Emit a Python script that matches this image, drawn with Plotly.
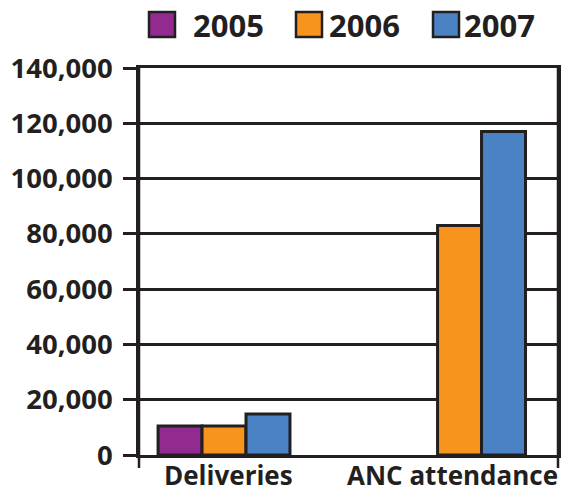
import plotly.graph_objects as go

# Data
categories = ["Deliveries", "ANC attendance"]
years = ["2005", "2006", "2007"]
values_2005 = [10500, None]
values_2006 = [10500, 83000]
values_2007 = [14800, 117000]
colors = ["#922a8f", "#f7941d", "#4a82c3"]
y_ticks = [0, 20000, 40000, 60000, 80000, 100000, 120000, 140000]

INK = "#231f20"
FONT = "Open Sans"
W, H = 562, 495
ML, MR, MT, MB = 139, 4, 68, 40
PW, PH = W - ML - MR, H - MT - MB


def px_x(p):
    return (p - ML) / PW


def px_y(p):
    return (H - MB - p) / PH


fig = go.Figure()
for yr, vals, col in zip(years, [values_2005, values_2006, values_2007], colors):
    fig.add_trace(go.Bar(
        x=categories, y=vals, name=yr, showlegend=False,
        marker=dict(color=col, line=dict(color=INK, width=3)),
    ))

# Legend: swatches and labels
legend_swatch_x = [149, 296, 433]
legend_text_x = [191, 327, 462]
shapes = []
annotations = []
for yr, col, sx, tx in zip(years, colors, legend_swatch_x, legend_text_x):
    shapes.append(dict(type="rect", xref="paper", yref="paper",
                       x0=px_x(sx), x1=px_x(sx + 26), y0=px_y(37), y1=px_y(12),
                       fillcolor=col, line=dict(color=INK, width=2.5)))
    annotations.append(dict(xref="paper", yref="paper", x=px_x(tx), y=px_y(25),
                            xanchor="left", yanchor="middle", showarrow=False,
                            text=f"<b>{yr}</b>",
                            font=dict(family=FONT, size=31, color=INK)))

# Category labels under the baseline
for cat, shift in zip(categories, [4, -7]):
    annotations.append(dict(xref="x", yref="paper", x=cat, y=px_y(H - 1),
                            xanchor="center", yanchor="bottom", xshift=shift,
                            borderpad=0, showarrow=False, text=f"<b>{cat}</b>",
                            font=dict(family=FONT, size=26, color=INK)))

# Side lines extending just below the baseline
for xp in [0, 1]:
    shapes.append(dict(type="line", xref="paper", yref="paper",
                       x0=xp, x1=xp, y0=px_y(468), y1=1,
                       line=dict(color=INK, width=2.5)))

fig.update_layout(
    width=W, height=H,
    margin=dict(l=ML, r=MR, t=MT, b=MB, pad=0, autoexpand=False),
    paper_bgcolor="white", plot_bgcolor="white",
    barmode="group", bargap=0.44, bargroupgap=0,
    shapes=shapes, annotations=annotations,
    font=dict(family=FONT, color=INK),
)
fig.update_xaxes(
    range=[-0.361, 1.418], showgrid=False, ticks="", automargin=False,
    showticklabels=False,
    showline=True, mirror=True, linecolor=INK, linewidth=2.5,
)
fig.update_yaxes(
    range=[0, 140000], tickvals=y_ticks, tickformat=",", automargin=False,
    showgrid=True, gridcolor=INK, gridwidth=2.5, zeroline=False,
    ticks="outside", ticklen=13, tickwidth=2.5, tickcolor=INK,
    ticklabelstandoff=5,
    showline=True, mirror=True, linecolor=INK, linewidth=2.5,
    tickfont=dict(family=FONT, size=27.5, color=INK, weight="bold"),
)

fig.write_html("out.html")
